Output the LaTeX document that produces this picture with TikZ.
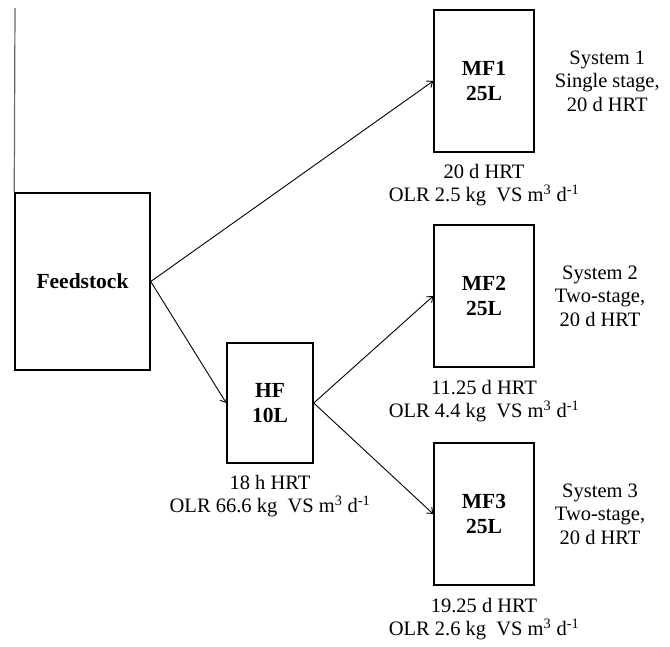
\documentclass[tikz,border=0pt]{standalone}
\usepackage{fontspec}
\setmainfont{Liberation Serif}
\usepackage{tikz}
\usetikzlibrary{arrows.meta, positioning}

\begin{document}
\begin{tikzpicture}[
    x=1pt, y=-1pt,
    every node/.style={font=\fontsize{20.5}{23.5}\selectfont},
    tank/.style={rectangle, draw, line width=1.5pt, inner sep=0pt, align=center,
        minimum width=100pt, minimum height=142pt, font=\fontsize{21.5}{25}\selectfont\bfseries},
    note/.style={align=center, inner sep=0pt},
    flow/.style={-{Straight Barb[length=5pt, width=8pt]}, line width=0.9pt}
]
    \useasboundingbox (0, 0) rectangle (670, 646);

    \node[tank, minimum width=135pt, minimum height=177pt] (feed) at (82.5, 281.5) {Feedstock};
    \node[tank, minimum width=86pt, minimum height=120pt] (hf) at (270, 403) {HF\\10L};
    \node[tank] (mf1) at (484, 81) {MF1\\25L};
    \node[tank] (mf2) at (484, 296) {MF2\\25L};
    \node[tank] (mf3) at (484, 514) {MF3\\25L};

    \coordinate (top) at (15, 8);
    \draw[gray!80!black, line width=1.2pt] (top) -- (feed.north west);

    \draw[flow] (feed.east) -- (mf1.west);
    \draw[flow] (feed.east) -- (hf.west);
    \draw[flow] (hf.east) -- (mf2.west);
    \draw[flow] (hf.east) -- (mf3.west);

    % operating conditions
    \node[note, below=11pt of hf] (hfnote) {18 h HRT\\OLR 66.6 kg\ \ VS m\textsuperscript{3} d\textsuperscript{-1}};
    \node[note, below=11pt of mf1] (mf1note) {20 d HRT\\OLR 2.5 kg\ \ VS m\textsuperscript{3} d\textsuperscript{-1}};
    \node[note, below=12pt of mf2] (mf2note) {11.25 d HRT\\OLR 4.4 kg\ \ VS m\textsuperscript{3} d\textsuperscript{-1}};
    \node[note, below=12pt of mf3] (mf3note) {19.25 d HRT\\OLR 2.6 kg\ \ VS m\textsuperscript{3} d\textsuperscript{-1}};

    \node[note, right=20pt of mf1] (sys1) {System 1\\Single stage,\\20 d HRT};
    \node[note, right=20pt of mf2] (sys2) {System 2\\Two-stage,\\20 d HRT};
    \node[note, right=20pt of mf3] (sys3) {System 3\\Two-stage,\\20 d HRT};
\end{tikzpicture}
\end{document}
